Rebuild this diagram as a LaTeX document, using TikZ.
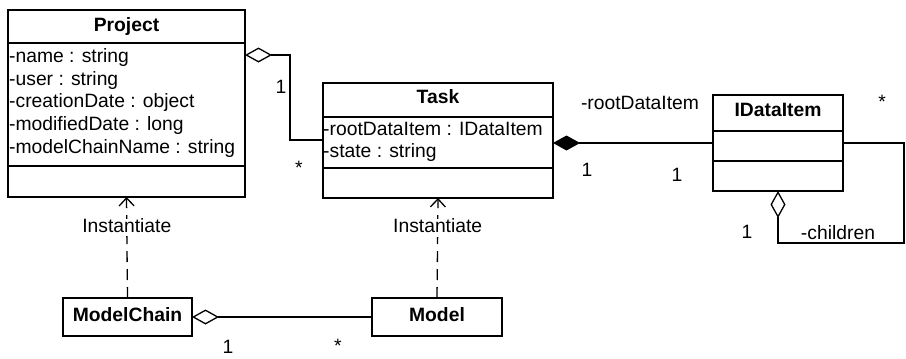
\documentclass[tikz,border=0pt]{standalone}
\usepackage{fontspec}
\setmainfont{Liberation Sans}
\usetikzlibrary{arrows.meta}
\begin{document}
\begin{tikzpicture}[x=1pt,y=-1pt,
  box/.style={draw, line width=1.4pt, inner sep=0pt, outer sep=0pt, anchor=north west},
  lbl/.style={inner sep=0pt, font=\fontsize{19.3}{23}\selectfont, text height=13.5pt, text depth=4pt},
  attr/.style={lbl, anchor=west},
  ttl/.style={lbl, font=\bfseries\fontsize{19.3}{23}\selectfont},
  divider/.style={line width=1.4pt},
  conn/.style={line width=1.3pt},
  agg/.style={conn, {Diamond[open,length=27pt,width=15pt]}-},
  comp/.style={conn, {Diamond[length=27pt,width=15pt]}-},
  inst/.style={conn, dash pattern=on 11pt off 7pt, -{Straight Barb[length=8pt,width=15pt]}},
]
\useasboundingbox[fill=white] (0,0) rectangle (906,359);

% Project
\node[box, minimum width=237pt, minimum height=187pt] (project) at (8,10) {};
\draw[divider] (8,43) -- (245,43);
\draw[divider] (8,166) -- (245,166);
\node[ttl] (ptitle) at (126.5,27) {Project};
\node[attr] (pa1) at (9,58) {-name : string};
\node[attr] (pa2) at (9,80.5) {-user : string};
\node[attr] (pa3) at (9,103) {-creationDate : object};
\node[attr] (pa4) at (9,126) {-modifiedDate : long};
\node[attr] (pa5) at (9,149) {-modelChainName : string};

% Task
\node[box, minimum width=230pt, minimum height=115pt] (task) at (323,83) {};
\draw[divider] (323,117) -- (553,117);
\draw[divider] (323,168) -- (553,168);
\node[ttl] (ttitle) at (438,99) {Task};
\node[attr] (ta1) at (323,130.5) {-rootDataItem : IDataItem};
\node[attr] (ta2) at (323,153) {-state : string};

% IDataItem
\node[box, minimum width=130pt, minimum height=96pt] (idata) at (713,95) {};
\draw[divider] (713,131) -- (843,131);
\draw[divider] (713,161) -- (843,161);
\node[ttl] (ititle) at (778,112) {IDataItem};

% ModelChain and Model
\node[box, minimum width=129pt, minimum height=38pt] (mchain) at (63,298) {};
\node[ttl] (mctitle) at (127.5,317) {ModelChain};
\node[box, minimum width=130pt, minimum height=38pt] (model) at (372,298) {};
\node[ttl] (mtitle) at (437,317) {Model};

% Project <>-- Task
\coordinate (p1) at (290,55);
\coordinate (p2) at (290,140);
\draw[agg] (project.east |- p1) -- (p1) -- (p2) -- (task.west |- p2);
\node[lbl] (m1) at (281,89) {1};
\node[lbl] (m2) at (299,170) {*};

% Task <#>-- IDataItem
\draw[comp] (idata.west -| task.east) -- (idata.west);
\node[lbl] (m3) at (640,105) {-rootDataItem};
\node[lbl] (m4) at (587,172) {1};
\node[lbl] (m5) at (677,177) {1};

% IDataItem self-association
\coordinate (c1) at (904,243);
\coordinate (c2) at (904,143);
\draw[agg] (idata.south) |- (c1) -- (c2) -- (idata.east);
\node[lbl] (m6) at (882,104) {*};
\node[lbl] (m7) at (747,234) {1};
\node[lbl] (m8) at (838,235) {-children};

% Instantiate dependencies
\draw[inst] (mchain.north) -- node[pos=0.7, lbl, fill=white] (i1) {Instantiate} (project.south);
\draw[inst] (model.north) -- node[pos=0.7, lbl, fill=white] (i2) {Instantiate} (task.south);

% ModelChain <>-- Model
\draw[agg] (mchain.east) -- (model.west);
\node[lbl] (m9) at (228,349) {1};
\node[lbl] (m10) at (338,348) {*};
\end{tikzpicture}
\end{document}
